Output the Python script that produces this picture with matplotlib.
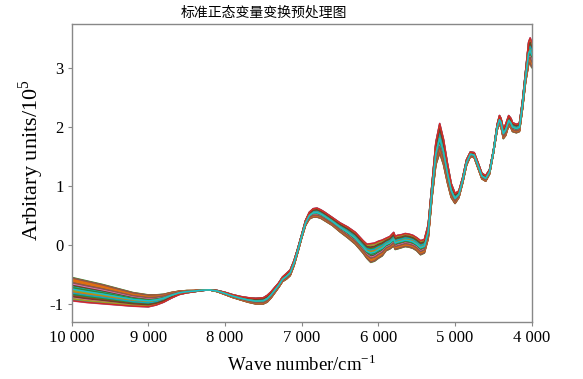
import numpy as np
import matplotlib.pyplot as plt

plt.rcParams['font.family'] = ['Liberation Serif', 'Noto Sans CJK SC', 'DejaVu Sans']
plt.rcParams['mathtext.fontset'] = 'custom'
plt.rcParams['mathtext.rm'] = 'Liberation Serif'
plt.rcParams['axes.unicode_minus'] = False

# 波数节点 (cm-1) 与两条极端光谱
wavenumber = [10000, 9800, 9600, 9400, 9200, 9000, 8900, 8800, 8700, 8600,
              8500, 8400, 8300, 8200, 8100, 8000, 7900, 7800, 7700, 7600,
              7500, 7450, 7400, 7300, 7250, 7200, 7150, 7100, 7050, 7000,
              6950, 6900, 6850, 6800, 6750, 6700, 6600, 6500, 6400, 6300,
              6200, 6150, 6100, 6050, 6000, 5950, 5900, 5850, 5800, 5780,
              5750, 5700, 5650, 5600, 5550, 5500, 5450, 5400, 5350, 5300,
              5250, 5200, 5150, 5100, 5050, 5000, 4950, 4900, 4850, 4800,
              4750, 4700, 4650, 4600, 4550, 4500, 4450, 4420, 4400, 4370,
              4340, 4300, 4270, 4250, 4200, 4160, 4120, 4080, 4040, 4020, 4000]
spec_a = [-0.54, -0.60, -0.66, -0.73, -0.80, -0.84, -0.84, -0.83, -0.80, -0.78,
          -0.77, -0.77, -0.76, -0.76, -0.79, -0.84, -0.89, -0.93, -0.97, -1.00,
          -1.00, -0.97, -0.90, -0.72, -0.62, -0.58, -0.52, -0.35, -0.12, 0.12,
          0.33, 0.44, 0.47, 0.47, 0.45, 0.41, 0.33, 0.22, 0.12, 0.01,
          -0.14, -0.23, -0.30, -0.28, -0.23, -0.19, -0.10, -0.07, -0.02, -0.08,
          -0.07, -0.05, -0.03, -0.04, -0.06, -0.10, -0.17, -0.14, 0.10, 0.80,
          1.35, 1.55, 1.35, 1.05, 0.80, 0.70, 0.80, 1.05, 1.35, 1.50,
          1.48, 1.30, 1.12, 1.08, 1.20, 1.55, 1.95, 2.05, 2.00, 1.80,
          1.85, 2.02, 1.98, 1.92, 1.90, 1.92, 2.30, 2.75, 3.05, 3.08, 3.00]
spec_b = [-0.95, -0.98, -1.00, -1.02, -1.04, -1.05, -1.02, -0.97, -0.90, -0.84,
          -0.81, -0.79, -0.77, -0.76, -0.77, -0.80, -0.84, -0.87, -0.89, -0.90,
          -0.89, -0.85, -0.79, -0.64, -0.54, -0.48, -0.42, -0.26, -0.05, 0.18,
          0.42, 0.56, 0.62, 0.63, 0.60, 0.56, 0.47, 0.38, 0.31, 0.22,
          0.08, 0.02, 0.03, 0.04, 0.07, 0.09, 0.12, 0.15, 0.22, 0.15,
          0.17, 0.18, 0.20, 0.19, 0.17, 0.13, 0.08, 0.10, 0.35, 1.05,
          1.75, 2.07, 1.80, 1.40, 1.05, 0.88, 0.92, 1.15, 1.45, 1.58,
          1.57, 1.40, 1.22, 1.18, 1.28, 1.60, 2.05, 2.20, 2.15, 1.98,
          2.05, 2.20, 2.15, 2.08, 2.05, 2.07, 2.45, 2.95, 3.45, 3.52, 3.45]
# 每个样本在两条极端光谱之间的位置
sample_w = [0.02, 0.95, 0.40, 0.71, 0.15, 0.88, 0.55, 0.30, 0.78, 0.08,
            0.63, 0.47, 0.99, 0.22, 0.83, 0.35, 0.60, 0.12, 0.91, 0.50,
            0.27, 0.74, 0.05, 0.67, 0.43, 0.86, 0.18, 0.58, 0.38, 0.97,
            0.10, 0.69, 0.32, 0.80, 0.25, 0.53, 0.45, 0.93, 0.14, 0.65,
            0.36, 0.76, 0.20, 0.57, 0.85, 0.41, 0.62, 0.33, 0.72, 0.48,
            0.04, 0.90, 0.28, 0.66, 0.17, 0.81, 0.44, 0.98, 0.24, 0.52]

colors = ['#2e8b2e', '#d62728', '#8c564b', '#a0a020', '#e377c2',
          '#17a5b8', '#e07010', '#6b4226']

fig = plt.figure(figsize=(5.83, 3.79), dpi=100)
ax = fig.add_axes([0.123, 0.151, 0.789, 0.786])

a = np.array(spec_a)
b = np.array(spec_b)
for i, w in enumerate(sample_w):
    ax.plot(wavenumber, a + w * (b - a), color=colors[i % len(colors)], lw=1.1)
# 最后画的一条位于中间
ax.plot(wavenumber, a + 0.5 * (b - a), color='#17becf', lw=1.1)

ax.set_xlim(10000, 4000)
ax.set_ylim(-1.3, 3.75)
ax.set_xticks([10000, 9000, 8000, 7000, 6000, 5000, 4000])
ax.set_xticklabels(['10 000', '9 000', '8 000', '7 000', '6 000', '5 000', '4 000'])
ax.set_yticks([-1, 0, 1, 2, 3])
ax.set_yticklabels(['-1', '0', '1', '2', '3'])
ax.tick_params(labelsize=12, length=3, color='#888888', width=0.8, pad=3)
for s in ax.spines.values():
    s.set_color('#888888')
    s.set_linewidth(1.0)

ax.set_xlabel('Wave number/cm$^{\\mathregular{-1}}$', fontsize=13.5, labelpad=6)
ax.set_ylabel('Arbitary units/10$^{\\mathregular{5}}$', fontsize=16)
ax.yaxis.set_label_coords(-0.056, 0.543)
fig.text(264 / 583, 1 - 12.5 / 379, '标准正态变量变换预处理图', fontsize=10,
         family=['Noto Sans CJK SC', 'DejaVu Sans'], ha='center', va='center')

fig.savefig('out.png', dpi=100)
